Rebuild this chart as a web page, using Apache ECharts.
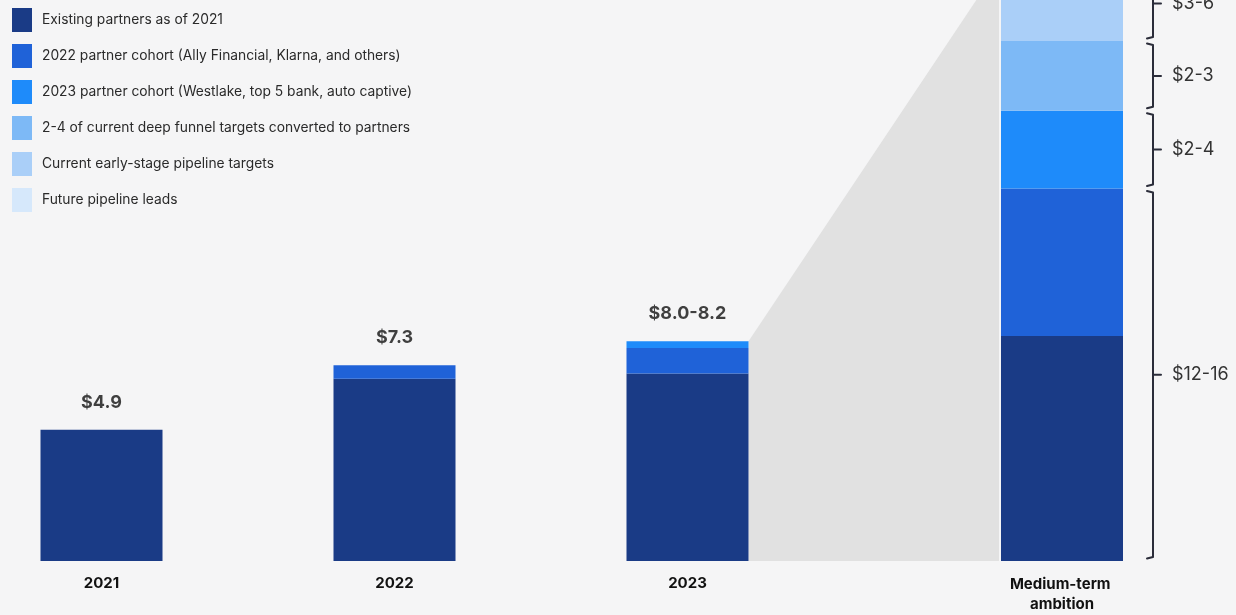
<!DOCTYPE html>
<html>
<head>
<meta charset="utf-8">
<script src="https://cdn.jsdelivr.net/npm/echarts@6/dist/echarts.min.js"></script>
<style>
  html, body { margin: 0; padding: 0; background: #f5f5f6; }
  #chart { width: 1236px; height: 615px; }
</style>
</head>
<body>
<div id="chart"></div>
<script>
// Revenue by partner cohort, $B
const categories = ['2021', '2022', '2023'];
const existingPartners = [4.9, 6.8, 7.0];
const cohort2022 = [0, 0.5, 0.95];
const cohort2023 = [0, 0, 0.25];
const totalLabels = ['$4.9', '$7.3', '$8.0-8.2'];

// Medium-term ambition, stacked bottom to top
const ambitionCategory = ['Medium-term ambition'];
const ambitionExisting = [8.4];
const ambition2022 = [5.5];
const ambition2023 = [2.9];
const ambitionDeepFunnel = [2.6];
const ambitionEarlyStage = [2.8];
const ambitionFutureLeads = [3.0];

// Range brackets beside the ambition bar: label and the segments each one spans
const bracketLabels = ['$12-16', '$2-4', '$2-3', '$3-6'];
const bracketSegments = [[0, 1], [2], [3], [4]];

const seriesNames = [
  'Existing partners as of 2021',
  '2022 partner cohort (Ally Financial, Klarna, and others)',
  '2023 partner cohort (Westlake, top 5 bank, auto captive)',
  '2-4 of current deep funnel targets converted to partners',
  'Current early-stage pipeline targets',
  'Future pipeline leads'
];
const colors = ['#1a3b86', '#1f62d8', '#1e8bfa', '#7db9f6', '#aacff8', '#d6e8fb'];

const BAR_W = 122;
const FONT = 'Inter, "Liberation Sans", sans-serif';

const ambitionStack = [ambitionExisting, ambition2022, ambition2023,
  ambitionDeepFunnel, ambitionEarlyStage, ambitionFutureLeads];
const ambitionCum = [];
ambitionStack.reduce((acc, arr) => { const v = acc + arr[0]; ambitionCum.push(v); return v; }, 0);
// connector band reaches the top of the current pipeline (everything but future leads)
const bandTop = ambitionCum[ambitionCum.length - 2];

const totals = categories.map((c, i) => existingPartners[i] + cohort2022[i] + cohort2023[i]);

const bracketData = bracketSegments.map(seg => {
  const lo = seg[0] === 0 ? 0 : ambitionCum[seg[0] - 1];
  const hi = ambitionCum[seg[seg.length - 1]];
  return [0, lo, hi];
});

const historySeries = [existingPartners, cohort2022, cohort2023].map((arr, i) => ({
  name: seriesNames[i], type: 'bar', stack: 'history',
  xAxisIndex: 0, yAxisIndex: 0, barWidth: BAR_W, clip: false,
  itemStyle: { color: colors[i] }, data: arr
}));

const ambitionSeries = ambitionStack.map((arr, i) => ({
  name: seriesNames[i], type: 'bar', stack: 'ambition',
  xAxisIndex: 1, yAxisIndex: 1, barWidth: BAR_W, clip: false,
  itemStyle: { color: colors[i] }, data: arr
}));

const catAxisLabel = {
  color: '#111', fontFamily: FONT, fontWeight: 'bold', fontSize: 15,
  lineHeight: 20, margin: 12
};

const chart = echarts.init(document.getElementById('chart'), null, { renderer: 'canvas' });
const option = {
  backgroundColor: '#f5f5f6',
  animation: false,
  color: colors,
  legend: {
    orient: 'vertical', left: 12, top: 8, padding: 0,
    itemWidth: 20, itemHeight: 24, itemGap: 12,
    icon: 'rect', selectedMode: false,
    data: seriesNames,
    textStyle: { color: '#2a2a2a', fontFamily: FONT, fontSize: 13.8, padding: [0, 0, 0, 5] }
  },
  grid: [
    { left: 101.5, right: 548.5, top: 25, bottom: 54 },
    { left: 1001, right: 113, top: 25, bottom: 54 }
  ],
  xAxis: [
    { type: 'category', gridIndex: 0, data: categories, boundaryGap: false,
      axisLine: { show: false }, axisTick: { show: false }, axisLabel: catAxisLabel },
    { type: 'category', gridIndex: 1, data: ambitionCategory, boundaryGap: true,
      axisLine: { show: false }, axisTick: { show: false },
      axisLabel: Object.assign({}, catAxisLabel, { width: BAR_W, overflow: 'break', margin: 13 }) }
  ],
  yAxis: [
    { type: 'value', gridIndex: 0, min: 0, max: 20, show: false },
    { type: 'value', gridIndex: 1, min: 0, max: 20, show: false }
  ],
  series: [
    ...historySeries,
    ...ambitionSeries,
    {
      type: 'scatter', xAxisIndex: 0, yAxisIndex: 0, silent: true,
      symbolSize: 1, itemStyle: { color: 'rgba(0,0,0,0)' },
      data: totals.map((t, i) => [i, t]),
      label: {
        show: true, position: 'top', distance: 18,
        formatter: p => totalLabels[p.dataIndex],
        color: '#111', fontFamily: FONT, fontWeight: 'bold', fontSize: 18
      }
    },
    {
      type: 'custom', xAxisIndex: 1, yAxisIndex: 1, silent: true, clip: false,
      data: bracketData,
      encode: { x: 0, y: [1, 2] },
      renderItem: (params, api) => {
        const top = api.coord([0, api.value(2)]);
        const bot = api.coord([0, api.value(1)]);
        const x = top[0] + BAR_W / 2 + 30;
        const y1 = top[1] + 2.5, y2 = bot[1] - 2.5, ym = (y1 + y2) / 2;
        const stroke = { stroke: '#2b2d3a', lineWidth: 2, fill: null, lineJoin: 'round', lineCap: 'round' };
        return {
          type: 'group',
          children: [
            { type: 'polyline', shape: { points: [[x - 6, y1], [x, y1 + 1.5], [x, y2 - 1.5], [x - 6, y2]] }, style: stroke },
            { type: 'line', shape: { x1: x, y1: ym, x2: x + 8, y2: ym }, style: stroke },
            { type: 'text', style: { x: x + 19, y: ym, text: bracketLabels[params.dataIndex],
              fill: '#333', fontFamily: FONT, fontSize: 18, verticalAlign: 'middle', align: 'left' } }
          ]
        };
      }
    }
  ]
};
chart.setOption(option);

// Grey band projecting from the 2023 total to the ambition pipeline
const p23 = chart.convertToPixel({ xAxisIndex: 0, yAxisIndex: 0 }, [2, totals[2]]);
const pMed = chart.convertToPixel({ xAxisIndex: 1, yAxisIndex: 1 }, [0, bandTop]);
const base = chart.convertToPixel({ xAxisIndex: 0, yAxisIndex: 0 }, [2, 0]);
const half = BAR_W / 2;
chart.setOption({
  graphic: [{
    type: 'polygon', z: 1, silent: true,
    shape: { points: [
      [p23[0] + half, p23[1]], [pMed[0] - half - 2, pMed[1]],
      [pMed[0] - half - 2, base[1]], [p23[0] + half, base[1]]
    ] },
    style: { fill: '#e1e1e1' }
  }]
});
</script>
</body>
</html>
